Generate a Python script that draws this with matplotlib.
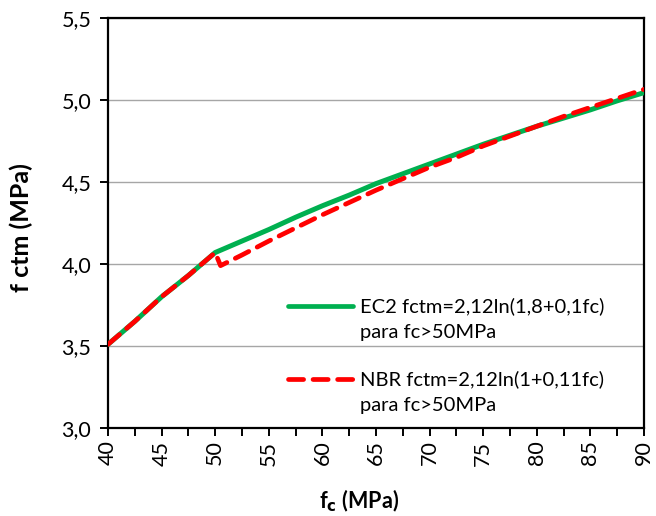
import matplotlib
matplotlib.use("Agg")
import matplotlib.pyplot as plt
from matplotlib.ticker import MultipleLocator

# valores
fc_ec2 = [40, 42.5, 45, 47.5, 50, 52.5, 55, 57.5, 60, 62.5, 65, 67.5, 70,
          72.5, 75, 77.5, 80, 82.5, 85, 87.5, 90]
fctm_ec2 = [3.51, 3.65, 3.80, 3.93, 4.07, 4.14, 4.21, 4.285, 4.355, 4.42, 4.49, 4.55, 4.61,
            4.67, 4.73, 4.785, 4.84, 4.89, 4.94, 4.995, 5.045]

fc_nbr = [40, 42.5, 45, 47.5, 50, 50.5, 52.5, 55, 57.5, 60, 62.5, 65, 67.5, 70,
          72.5, 75, 77.5, 80, 82.5, 85, 87.5, 90]
fctm_nbr = [3.51, 3.65, 3.80, 3.93, 4.07, 3.99, 4.055, 4.14, 4.22, 4.30, 4.375, 4.45, 4.52, 4.59,
            4.65, 4.72, 4.78, 4.84, 4.90, 4.955, 5.01, 5.065]

y_ticks = [3.0, 3.5, 4.0, 4.5, 5.0, 5.5]
label_ec2 = ["EC2 fctm=2,12ln(1,8+0,1fc)", "para fc>50MPa"]
label_nbr = ["NBR fctm=2,12ln(1+0,11fc)", "para fc>50MPa"]

green = "#00B050"
red = "#FF0000"
dash = (0, (3.2, 2.0))

plt.rcParams['font.family'] = ['Lato', 'DejaVu Sans']

fig = plt.figure(figsize=(6.56, 5.16), dpi=100)
ax = fig.add_axes([0.1646, 0.1705, 0.8171, 0.7946])

ax.plot(fc_ec2, fctm_ec2, color=green, lw=3.6, solid_capstyle='round', zorder=3)
ax.plot(fc_nbr, fctm_nbr, color=red, lw=3.4, ls=dash,
        dash_capstyle='round', zorder=4)

ax.set_xlim(40, 90)
ax.set_ylim(3.0, 5.5)
ax.xaxis.set_major_locator(MultipleLocator(5))
ax.xaxis.set_minor_locator(MultipleLocator(2.5))
ax.set_yticks(y_ticks)
ax.set_yticklabels([("%.1f" % v).replace('.', ',') for v in y_ticks])

ax.grid(axis='y', color='#A6A6A6', lw=1.0, zorder=0)
for s in ax.spines.values():
    s.set_linewidth(1.6)
    s.set_color('black')

ax.tick_params(axis='both', which='both', direction='out', width=1.4, color='black')
ax.tick_params(axis='x', which='both', length=6, labelsize=15.5, labelrotation=90, pad=3)
ax.tick_params(axis='y', length=6, labelsize=15.5, pad=6)

ax.set_xlabel(r"f$_\mathbf{c}$ (MPa)", fontsize=15.5, fontweight='bold')
ax.xaxis.set_label_coords(0.468, -0.145)
ax.set_ylabel("f ctm (MPa)", fontsize=18, fontweight='bold')
ax.yaxis.set_label_coords(-0.14, 0.49)

# legenda desenhada a mao (marcador alinhado com a primeira linha do texto)
def legend_entry(y, color, style, lines):
    ax.plot([0.335, 0.458], [y, y], transform=ax.transAxes, color=color, lw=3.4,
            ls=style, dash_capstyle='round', solid_capstyle='round', clip_on=False)
    ax.text(0.47, y, lines[0], transform=ax.transAxes, fontsize=14.5, va='center')
    ax.text(0.47, y - 0.063, lines[1], transform=ax.transAxes, fontsize=14.5, va='center')

legend_entry(0.297, green, '-', label_ec2)
legend_entry(0.119, red, dash, label_nbr)

fig.savefig("out.png", dpi=100)
